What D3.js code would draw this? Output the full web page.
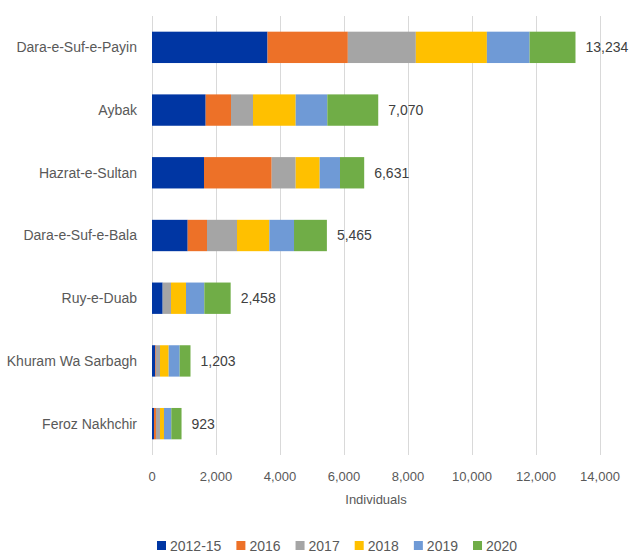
<!DOCTYPE html>
<html>
<head>
<meta charset="utf-8">
<script src="https://cdn.jsdelivr.net/npm/d3@7"></script>
<style>
  body { margin: 0; background: #fff; }
  svg { font-family: "Liberation Sans", Arial, sans-serif; }
  .grid line { stroke: #d9d9d9; }
  .grid .domain { display: none; }
</style>
</head>
<body>
<div id="chart"></div>
<script>
// districts, top to bottom
var districts = ["Dara-e-Suf-e-Payin", "Aybak", "Hazrat-e-Sultan", "Dara-e-Suf-e-Bala",
                 "Ruy-e-Duab", "Khuram Wa Sarbagh", "Feroz Nakhchir"];
var years = ["2012-15", "2016", "2017", "2018", "2019", "2020"];
var colors = ["#0036a3", "#ed7128", "#a5a5a5", "#ffc000", "#6f9ad6", "#70ad47"];

// values per year, in the same order as districts
var v2012_15 = [3610, 1677, 1625, 1115, 333, 104, 62];
var v2016    = [2510,  792, 2115,  604,   0,  21, 62];
var v2017    = [2125,  687,  750,  937, 261, 125, 125];
var v2018    = [2220, 1334,  750, 1011, 469, 271, 125];
var v2019    = [1335,  989,  635,  771, 572, 344, 229];
var v2020    = [1434, 1591,  756, 1027, 823, 338, 320];
var totals   = [13234, 7070, 6631, 5465, 2458, 1203, 923];
var xTicks = [0, 2000, 4000, 6000, 8000, 10000, 12000, 14000];

var margin = { top: 16, left: 152, right: 32, bottom: 98 },
    width = 632 - margin.left - margin.right,
    height = 553 - margin.top - margin.bottom;

var rows = districts.map(function(d, i) {
  return { district: d, "2012-15": v2012_15[i], "2016": v2016[i], "2017": v2017[i],
           "2018": v2018[i], "2019": v2019[i], "2020": v2020[i], total: totals[i] };
});

var svg = d3.select("#chart").append("svg")
    .attr("width", 632)
    .attr("height", 553)
  .append("g")
    .attr("transform", "translate(" + margin.left + "," + margin.top + ")");

var x = d3.scaleLinear().domain([0, 14000]).range([0, 448]);
var y = d3.scaleBand().domain(districts).range([0, 439])
    .paddingInner(0.5).paddingOuter(0.25);

// vertical gridlines
svg.append("g")
    .attr("class", "grid")
    .attr("transform", "translate(0," + 439 + ")")
    .call(d3.axisBottom(x).tickValues(xTicks).tickSize(-439).tickFormat(""));

// x tick labels
var fmt = d3.format(",");
svg.append("g").selectAll("text")
    .data(xTicks)
    .enter().append("text")
    .attr("x", function(d) { return x(d); })
    .attr("y", 465)
    .attr("text-anchor", "middle")
    .style("font-size", "13px")
    .style("fill", "#595959")
    .text(function(d) { return fmt(d); });

svg.append("text")
    .attr("x", x(7000))
    .attr("y", 488)
    .attr("text-anchor", "middle")
    .style("font-size", "13px")
    .style("fill", "#595959")
    .text("Individuals");

// category labels
svg.append("g").selectAll("text")
    .data(districts)
    .enter().append("text")
    .attr("x", -15)
    .attr("y", function(d) { return y(d) + y.bandwidth() / 2; })
    .attr("dy", "0.35em")
    .attr("text-anchor", "end")
    .style("font-size", "14px")
    .style("fill", "#595959")
    .text(function(d) { return d; });

// stacked bars
var stack = d3.stack().keys(years)(rows);

svg.append("g").selectAll("g")
    .data(stack)
    .enter().append("g")
    .attr("fill", function(d, i) { return colors[i]; })
  .selectAll("rect")
    .data(function(d) { return d; })
    .enter().append("rect")
    .attr("x", function(d) { return x(d[0]); })
    .attr("y", function(d) { return y(d.data.district); })
    .attr("width", function(d) { return x(d[1]) - x(d[0]); })
    .attr("height", y.bandwidth());

// totals
svg.append("g").selectAll("text")
    .data(rows)
    .enter().append("text")
    .attr("x", function(d) { return x(d.total) + 10; })
    .attr("y", function(d) { return y(d.district) + y.bandwidth() / 2; })
    .attr("dy", "0.35em")
    .style("font-size", "14px")
    .style("fill", "#404040")
    .text(function(d) { return fmt(d.total); });

// legend
var legend = svg.append("g")
    .attr("transform", "translate(" + (157 - margin.left) + "," + (546 - margin.top) + ")");

var lx = 0;
years.forEach(function(yr, i) {
  var item = legend.append("g").attr("transform", "translate(" + lx + ",0)");
  item.append("rect")
      .attr("x", 0).attr("y", -5)
      .attr("width", 9).attr("height", 9)
      .attr("fill", colors[i]);
  var t = item.append("text")
      .attr("x", 13)
      .attr("y", 0)
      .attr("dy", "0.35em")
      .style("font-size", "14px")
      .style("fill", "#595959")
      .text(yr);
  lx += 13 + t.node().getComputedTextLength() + 15;
});
</script>
</body>
</html>
